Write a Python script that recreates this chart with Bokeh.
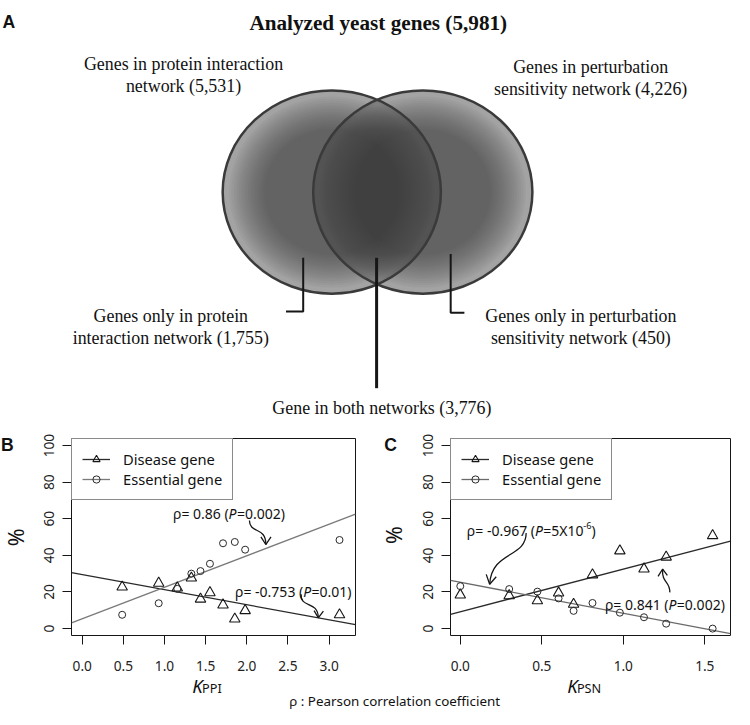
from bokeh.plotting import figure
from bokeh.models import Range1d, Label, FixedTicker, PrintfTickFormatter, Legend, LegendItem
from bokeh.layouts import column, row
from bokeh.embed import file_html
from bokeh.resources import INLINE

S = 0.978            # reference px -> page px
SANS = "Noto Sans"
SERIF = "Liberation Serif"
INK = "#161616"


def fs(px):
    return f"{px * S:.1f}px"


# ---------------- Panel A: Venn diagram texts ----------------
venn_title = "Analyzed yeast genes (5,981)"
ppi_set = ["Genes in protein interaction", "network (5,531)"]
psn_set = ["Genes in perturbation", "sensitivity network (4,226)"]
ppi_only = ["Genes only in protein", "interaction network (1,755)"]
psn_only = ["Genes only in perturbation", "sensitivity network (450)"]
both_sets = "Gene in both networks (3,776)"

# ---------------- Panel B: K_PPI ----------------
series_names = ["Disease gene", "Essential gene"]
b_kppi = [0.485, 0.929, 1.155, 1.326, 1.437, 1.552, 1.711, 1.854, 1.980, 3.127]
b_disease = [22.7, 24.8, 22.2, 27.6, 16.1, 19.6, 12.9, 5.2, 9.8, 7.5]
b_essential = [7.5, 13.8, 21.7, 30.0, 31.4, 35.4, 46.6, 47.3, 43.1, 48.4]
b_fit_intercept = [29.5, 5.35]      # disease, essential
b_fit_slope = [-8.26, 17.2]
b_rho = ["0.86", "-0.753"]          # essential, disease
b_pval = ["0.002", "0.01"]
b_xticks = [0.0, 0.5, 1.0, 1.5, 2.0, 2.5, 3.0]

# ---------------- Panel C: K_PSN ----------------
c_kpsn = [0.0, 0.300, 0.473, 0.603, 0.695, 0.811, 0.979, 1.127, 1.263, 1.548]
c_disease = [18.4, 18.0, 15.2, 19.5, 13.3, 29.4, 42.5, 32.6, 39.1, 50.8]
c_essential = [23.2, 21.6, 20.2, 16.5, 9.7, 14.0, 8.7, 6.2, 2.7, 0.0]
c_fit_intercept = [9.2, 25.3]       # disease, essential
c_fit_slope = [23.3, -16.9]
c_rho = ["-0.967", "0.841"]         # essential, disease
c_pval = ["5X10", "-6", "0.002"]
c_xticks = [0.0, 0.5, 1.0, 1.5]

y_ticks = [0, 20, 40, 60, 80, 100]
footnote = "\u03c1 : Pearson correlation coefficient"

# approx Noto Sans advance widths (em)
W = {" ": 0.26, "(": 0.296, ")": 0.296, "-": 0.322, ".": 0.268, "=": 0.572,
     "X": 0.556, "P": 0.60, "\u03c1": 0.596}
for d in "0123456789":
    W[d] = 0.572


def tw(s, size):
    return sum(W.get(c, 0.55) for c in s) * size


def bare(width, height, xr, yr, transparent=False):
    p = figure(width=width, height=height, x_range=Range1d(*xr), y_range=Range1d(*yr),
               output_backend="svg", toolbar_location=None,
               x_axis_location=None, y_axis_location=None,
               min_border_left=0, min_border_right=0, min_border_top=0, min_border_bottom=0)
    p.grid.visible = False
    p.outline_line_color = None
    if transparent:
        p.background_fill_alpha = 0
        p.border_fill_alpha = 0
    else:
        p.background_fill_color = "white"
        p.border_fill_color = "white"
    return p


# ======================= Panel A =======================
pa = bare(734, 430, (0, 750), (440, 0))

venn = [(338.5, 196.0, 111.5, 104.0), (431.5, 196.0, 112.0, 104.0)]
pa.ellipse(x=[v[0] for v in venn], y=[v[1] for v in venn],
           width=[2 * v[2] for v in venn], height=[2 * v[3] for v in venn],
           fill_color="#666666", fill_alpha=0.60, line_color=None)
n_layers = 16
lx, ly, lw, lh = [], [], [], []
for cx, cy, a, b in venn:
    for i in range(n_layers):
        f = 0.94 - (0.94 - 0.62) * i / (n_layers - 1)
        lx.append(cx); ly.append(cy); lw.append(2 * a * f); lh.append(2 * b * f)
pa.ellipse(x=lx, y=ly, width=lw, height=lh, fill_color="#3c3c3c", fill_alpha=0.052,
           line_color=None)
pa.ellipse(x=[v[0] for v in venn], y=[v[1] for v in venn],
           width=[2 * v[2] for v in venn], height=[2 * v[3] for v in venn],
           fill_color=None, line_color="#3a3a3a", line_width=2.5)

pa.multi_line(xs=[[309.3, 309.3, 291.7], [460.0, 460.0, 474.0]],
              ys=[[263.3, 318.3, 318.3], [259.3, 319.5, 319.5]],
              line_color=INK, line_width=2)
pa.line([384.3, 384.3], [263.3, 396.7], line_color=INK, line_width=3)


def a_text(x, y, t, size=18.3, bold=False, align="center", font=SERIF):
    pa.add_layout(Label(x=x, y=y, text=t, text_font=font, text_font_size=fs(size),
                        text_font_style="bold" if bold else "normal", text_align=align,
                        text_baseline="alphabetic", text_color="#111111"))


a_text(386, 22.7, venn_title, size=21.7, bold=True)
a_text(187, 65, ppi_set[0]); a_text(187, 87.3, ppi_set[1])
a_text(603, 68.5, psn_set[0]); a_text(603, 90.5, psn_set[1])
a_text(174, 323, ppi_only[0]); a_text(174, 345.5, ppi_only[1])
a_text(593, 323, psn_only[0]); a_text(593, 345.5, psn_only[1])
a_text(389.7, 417, both_sets)
a_text(2, 21.7, "A", size=18, bold=True, align="left", font="Liberation Sans")


# ======================= Panels B, C =======================
PH = 279


def make_panel(xr, yr, borders, xticks):
    p = figure(width=367, height=PH, x_range=Range1d(*xr), y_range=Range1d(*yr),
               output_backend="svg", toolbar_location=None,
               min_border_left=borders[0], min_border_right=borders[1],
               min_border_top=borders[2], min_border_bottom=borders[3])
    p.grid.visible = False
    p.outline_line_color = INK
    p.outline_line_width = 1
    p.background_fill_color = "white"
    p.border_fill_color = "white"
    for ax in (p.xaxis[0], p.yaxis[0]):
        ax.axis_line_color = None
        ax.major_tick_line_color = INK
        ax.major_tick_in = 0
        ax.major_tick_out = 9
        ax.minor_tick_line_color = None
        ax.major_label_text_font = SANS
        ax.major_label_text_font_size = fs(14)
        ax.major_label_text_color = "#222222"
    p.xaxis.ticker = FixedTicker(ticks=xticks)
    p.xaxis.formatter = PrintfTickFormatter(format="%.1f")
    p.xaxis.major_label_standoff = 16
    p.yaxis.ticker = FixedTicker(ticks=y_ticks)
    p.yaxis.major_label_orientation = "vertical"
    p.yaxis.major_label_standoff = 8
    return p


def draw_series(p, k, dis, ess, icpt, slope, dis_line, ess_line):
    xs = [p.x_range.start, p.x_range.end]
    ld = p.line(xs, [icpt[0] + slope[0] * x for x in xs], line_color=dis_line, line_width=1.3)
    le = p.line(xs, [icpt[1] + slope[1] * x for x in xs], line_color=ess_line, line_width=1.3)
    sd = p.scatter(k, dis, marker="triangle", size=10.5, fill_color=None,
                   line_color=INK, line_width=1.1)
    se = p.scatter(k, ess, marker="circle", size=7, fill_color=None,
                   line_color="#2a2a2a", line_width=1.0)
    leg = Legend(items=[LegendItem(label=series_names[0], renderers=[ld, sd]),
                        LegendItem(label=series_names[1], renderers=[le, se])],
                 location="top_left", margin=0, padding=10, spacing=0,
                 glyph_width=28, glyph_height=18, label_height=18, label_standoff=13,
                 label_text_font=SANS, label_text_font_size=fs(15),
                 label_text_color="#111111",
                 border_line_color=INK, border_line_width=1,
                 background_fill_color="white", background_fill_alpha=1.0)
    p.add_layout(leg)


def put(p, cv, x, y, t, size, style="normal", align="left", baseline="alphabetic",
        angle=0.0, font=SANS):
    p.add_layout(Label(x=cv[0](x), y=cv[1](y), text=t, text_font=font,
                       text_font_size=fs(size), text_font_style=style,
                       text_align=align, text_baseline=baseline, angle=angle,
                       text_color="#111111"))


def rich(p, cv, x0, base, pieces):
    x = x0
    for t, size, style, dy in pieces:
        put(p, cv, x, base + dy, t, size, style)
        x += tw(t, size)


def arrow(p, cv, pts, arms):
    (x0, y0), (c0x, c0y), (c1x, c1y), (x1, y1) = pts
    fx, fy = cv
    p.bezier(x0=[fx(x0)], y0=[fy(y0)], x1=[fx(x1)], y1=[fy(y1)],
             cx0=[fx(c0x)], cy0=[fy(c0y)], cx1=[fx(c1x)], cy1=[fy(c1y)],
             line_color=INK, line_width=1.3)
    p.multi_line(xs=[[fx(arms[0][0]), fx(x1), fx(arms[1][0])]],
                 ys=[[fy(arms[0][1]), fy(y1), fy(arms[1][1])]],
                 line_color=INK, line_width=1.3)


# reference-pixel -> data converters (calibrated from axis ticks)
cvB = (lambda rx: (rx - 83.3) / 84.0, lambda ry: (646.7 - ry) / 1.91)
cvC = (lambda rx: (rx - 470.0) / 166.5, lambda ry: (642.3 - ry) / 1.883)

pb = make_panel((cvB[0](72.3), cvB[0](362.3)), (cvB[1](654.0), cvB[1](448.3)),
                (71, 12, 8, PH - 209), b_xticks)
draw_series(pb, b_kppi, b_disease, b_essential, b_fit_intercept, b_fit_slope,
            "#2a2a2a", "#7a7a7a")
TS = 14.3
rich(pb, cvB, 176, 526.5, [("\u03c1= " + b_rho[0] + " (", TS, "normal", 0), ("P", TS, "italic", 0),
                           ("=" + b_pval[0] + ")", TS, "normal", 0)])
rich(pb, cvB, 239.3, 608.3, [("\u03c1= " + b_rho[1] + " (", TS, "normal", 0), ("P", TS, "italic", 0),
                             ("=" + b_pval[1] + ")", TS, "normal", 0)])
arrow(pb, cvB, [(254, 534), (254, 548), (271, 540), (270.7, 559)], [(265.7, 551), (276, 551)])
arrow(pb, cvB, [(306.7, 611), (306, 626), (324, 617), (324.3, 635.5)], [(320, 628), (329.5, 628.5)])

pc = make_panel((cvC[0](460.0), cvC[0](746.0)), (cvC[1](649.4), cvC[1](446.7)),
                (83, 4, 7, PH - 205), c_xticks)
draw_series(pc, c_kpsn, c_disease, c_essential, c_fit_intercept, c_fit_slope,
            "#2a2a2a", "#6a6a6a")
rich(pc, cvC, 476.7, 541.5, [("\u03c1= " + c_rho[0] + " (", TS, "normal", 0), ("P", TS, "italic", 0),
                             ("=" + c_pval[0], TS, "normal", 0), (c_pval[1], 9.5, "normal", -5.5),
                             (")", TS, "normal", 0)])
rich(pc, cvC, 617.7, 617.7, [("\u03c1= " + c_rho[1] + " (", TS, "normal", 0), ("P", TS, "italic", 0),
                             ("=" + c_pval[2] + ")", TS, "normal", 0)])
arrow(pc, cvC, [(537.3, 544), (537, 570), (502, 562), (500, 596.7)], [(496.5, 586.5), (506.7, 589)])
arrow(pc, cvC, [(684, 605), (684.5, 593), (675.5, 596), (676.7, 581)], [(672, 588.5), (681.5, 587.5)])

# ============ transparent overlay for texts outside the plot frames ============
ov = bare(734, PH, (0, 750), (725, 440), transparent=True)
ov.styles = {"margin-top": f"-{PH}px"}
ident = (lambda v: v, lambda v: v)
put(ov, ident, 0.5, 455, "B", 18, style="bold", font="Liberation Sans")
put(ov, ident, 392, 455, "C", 18, style="bold", font="Liberation Sans")
put(ov, ident, 15, 549, "%", 22, align="center", baseline="middle", angle=1.5708)
put(ov, ident, 401.7, 546.7, "%", 22, align="center", baseline="middle", angle=1.5708)
put(ov, ident, 196, 700.7, "K", 19, style="italic")
put(ov, ident, 206, 703, "PPI", 13)
put(ov, ident, 579, 700, "K", 19, style="italic")
put(ov, ident, 589, 703.3, "PSN", 13)
put(ov, ident, 295, 716.5, footnote, 13.7)

layout = column(pa, row(pb, pc), ov)
open("out.html", "w").write(file_html(layout, INLINE))
